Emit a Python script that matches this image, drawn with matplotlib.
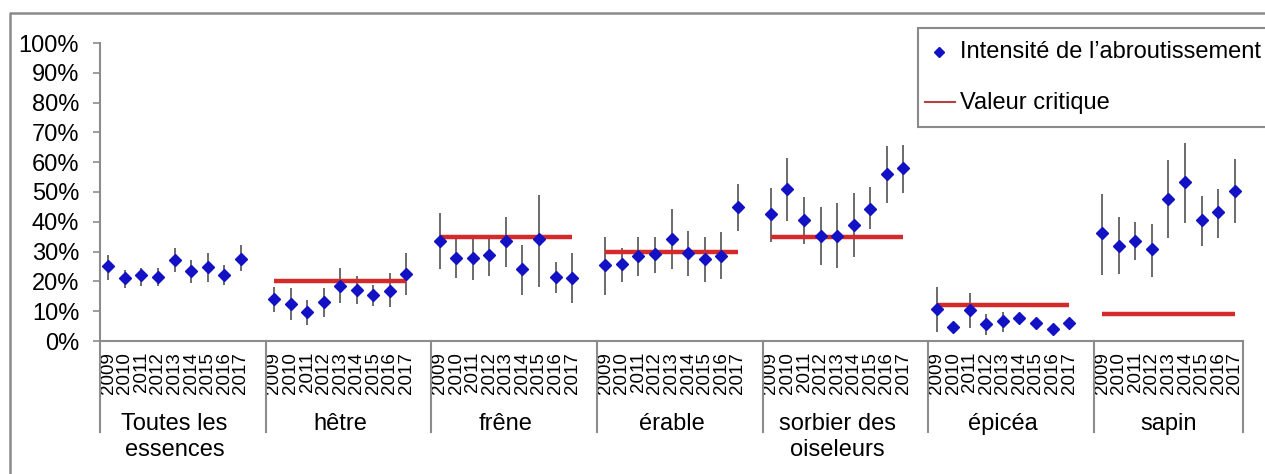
import matplotlib
matplotlib.use("Agg")
import matplotlib.pyplot as plt
import matplotlib.transforms as mtransforms
from matplotlib.lines import Line2D
from matplotlib.patches import Rectangle
from matplotlib.ticker import PercentFormatter

plt.rcParams['font.family'] = ['Liberation Sans', 'DejaVu Sans']

annees = ["2009", "2010", "2011", "2012", "2013", "2014", "2015", "2016", "2017"]
essences = ["Toutes les\nessences", "hêtre", "frêne", "érable", "sorbier des\noiseleurs", "épicéa", "sapin"]

intensite = [
    [25.2, 21.1, 22.0, 21.6, 27.2, 23.4, 24.8, 22.3, 27.6],
    [14.0, 12.4, 9.6, 13.1, 18.6, 17.1, 15.4, 16.8, 22.5],
    [33.7, 28.0, 28.0, 28.9, 33.4, 24.0, 34.1, 21.6, 21.2],
    [25.5, 25.7, 28.5, 29.2, 34.3, 29.4, 27.5, 28.5, 44.9],
    [42.5, 51.0, 40.5, 35.3, 35.4, 38.9, 44.4, 55.9, 57.9],
    [10.6, 4.6, 10.4, 5.6, 6.7, 7.6, 6.2, 4.0, 6.2],
    [36.3, 31.9, 33.7, 30.8, 47.8, 53.2, 40.6, 43.2, 50.4],
]
borne_inf = [
    [20.5, 17.7, 18.6, 18.3, 23.3, 19.6, 19.9, 18.8, 23.6],
    [9.8, 7.0, 5.4, 8.2, 12.6, 12.4, 11.7, 11.3, 15.4],
    [24.0, 21.2, 20.5, 21.8, 24.9, 15.4, 18.2, 16.0, 12.6],
    [15.4, 19.9, 21.8, 22.9, 24.0, 21.8, 19.9, 20.7, 37.0],
    [33.3, 40.4, 32.6, 25.5, 24.4, 28.3, 37.5, 46.4, 49.8],
    [3.1, 3.5, 4.3, 2.0, 3.1, 6.0, 3.9, 3.0, 5.0],
    [22.1, 22.5, 27.2, 21.6, 34.5, 39.7, 31.9, 34.5, 39.7],
]
borne_sup = [
    [29.0, 23.8, 24.5, 24.5, 31.1, 27.2, 29.4, 25.5, 32.1],
    [18.2, 17.7, 13.8, 17.7, 24.4, 21.8, 18.8, 22.7, 29.4],
    [43.1, 34.5, 34.5, 34.7, 41.7, 32.2, 49.0, 26.6, 29.4],
    [35.0, 31.1, 35.0, 35.0, 44.2, 37.0, 34.8, 36.5, 52.7],
    [51.2, 61.3, 48.2, 44.9, 46.4, 49.6, 51.6, 65.4, 65.8],
    [18.2, 6.0, 16.2, 9.0, 9.8, 9.0, 7.6, 5.0, 7.5],
    [49.3, 41.7, 40.0, 39.3, 60.7, 66.5, 48.7, 51.0, 61.0],
]
valeur_critique = [None, 20, 35, 30, 35, 12, 9]

W, H = 1265, 474
fig = plt.figure(figsize=(W / 100, H / 100), dpi=100)
ax = fig.add_axes([100 / W, 133 / H, 1143 / W, 298 / H])

gris = '#8c8c8c'
bleu = '#1212c4'
rouge = '#d42a2a'

n = len(annees)
pas = n + 1  # une case vide entre les essences
ticks, labels = [], []
for i, nom in enumerate(essences):
    xs = [i * pas + j for j in range(n)]
    ticks += xs
    labels += annees
    y = [v / 100 for v in intensite[i]]
    lo = [(v - b) / 100 for v, b in zip(intensite[i], borne_inf[i])]
    hi = [(b - v) / 100 for v, b in zip(intensite[i], borne_sup[i])]
    ax.errorbar(xs, y, yerr=[lo, hi], fmt='none', ecolor='#6a6a6a', elinewidth=1.4, capsize=0, zorder=2)
    if valeur_critique[i] is not None:
        ax.plot(xs, [valeur_critique[i] / 100] * n, color=rouge, lw=3.2, solid_capstyle='butt', zorder=3)
    ax.plot(xs, y, 'D', color=bleu, markersize=6.3, zorder=4)

trans = mtransforms.blended_transform_factory(ax.transData, ax.transAxes)
nb = len(essences) * pas - 1
for k in range(len(essences) + 1):
    x = min(k * pas - 0.5, nb - 0.5)
    ax.plot([x, x], [0, -0.305], color=gris, lw=1.5, transform=trans, clip_on=False)
for i, nom in enumerate(essences):
    ax.text(i * pas + (n - 1) / 2, -0.24, nom, transform=trans, ha='center', va='top',
            fontsize=17, linespacing=1.27)

ax.set_xlim(-0.5, nb - 0.5)
ax.set_ylim(0, 1)
ax.yaxis.set_major_formatter(PercentFormatter(1.0, decimals=0))
ax.set_yticks([i / 10 for i in range(11)])
ax.tick_params(axis='y', labelsize=17, length=5, width=1.2, color=gris, pad=10)
ax.set_xticks(ticks, labels, rotation=90, fontsize=13.5)
ax.tick_params(axis='x', length=0, pad=8)
for s in ['top', 'right']:
    ax.spines[s].set_visible(False)
for s in ['left', 'bottom']:
    ax.spines[s].set_color(gris)
    ax.spines[s].set_linewidth(1.5)

# cadre extérieur
fig.add_artist(Line2D([10 / W, 10 / W, 1.01], [0, 1 - 13 / H, 1 - 13 / H], color='#8a8a8a', lw=1.8))

# légende
fig.add_artist(Rectangle((918 / W, 1 - 127 / H), 400 / W, 99 / H, facecolor='white', edgecolor='#8a8a8a', lw=1.5))
fig.add_artist(Line2D([939 / W], [1 - 52 / H], marker='D', color=bleu, markersize=5, linestyle='none'))
fig.text(960 / W, 1 - 52 / H, "Intensité de l’abroutissement", fontsize=17, va='center', ha='left')
fig.add_artist(Line2D([925 / W, 955 / W], [1 - 102 / H, 1 - 102 / H], color='#b5403f', lw=1.5))
fig.text(960 / W, 1 - 103 / H, "Valeur critique", fontsize=17, va='center', ha='left')

fig.savefig('out.png', dpi=100)
